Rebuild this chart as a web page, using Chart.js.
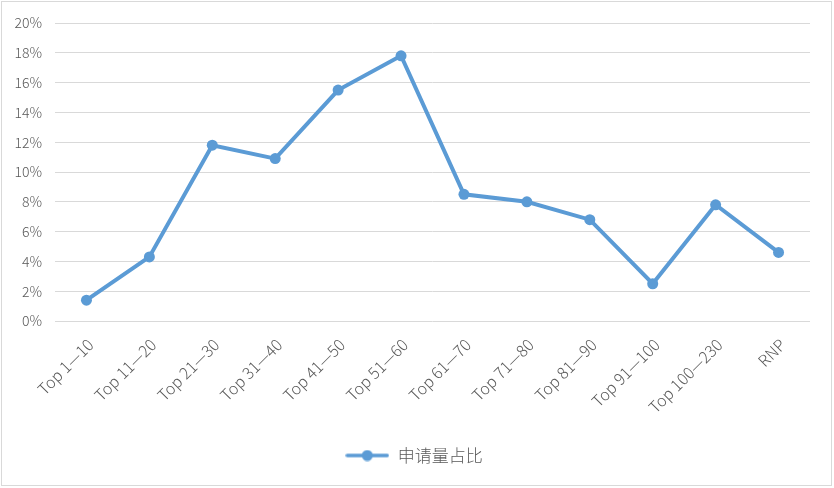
<!DOCTYPE html>
<html>
<head>
<meta charset="utf-8">
<script src="https://cdn.jsdelivr.net/npm/chart.js@4.4.0/dist/chart.umd.min.js"></script>
<style>
  html, body { margin: 0; padding: 0; background: #fff; }
  #wrap { position: absolute; left: 0; top: 0; width: 834px; height: 488px; }
  #frame { position: absolute; left: 1px; top: 1px; width: 829px; height: 483px; border: 1px solid #d9d9d9; pointer-events: none; }
</style>
</head>
<body>
<div id="wrap">
  <canvas id="c" width="834" height="488"></canvas>
  <div id="frame"></div>
</div>
<script>
const categories = ['Top 1—10', 'Top 11—20', 'Top 21—30', 'Top 31—40', 'Top 41—50', 'Top 51—60', 'Top 61—70', 'Top 71—80', 'Top 81—90', 'Top 91—100', 'Top 100—230', 'RNP'];
const seriesName = '申请量占比';
const shareValues = [1.4, 4.3, 11.8, 10.9, 15.5, 17.8, 8.5, 8.0, 6.8, 2.5, 7.8, 4.6];
const yTickMax = 20;
const yTickStep = 2;

const BLUE = '#5B9BD5';
const FONT = '"Noto Sans CJK SC", "Noto Sans", sans-serif';

function legendMarker() {
  const cv = document.createElement('canvas');
  cv.width = 44; cv.height = 12;
  const g = cv.getContext('2d');
  g.strokeStyle = BLUE; g.lineWidth = 3.5; g.lineCap = 'round';
  g.beginPath(); g.moveTo(2, 6); g.lineTo(42, 6); g.stroke();
  g.fillStyle = BLUE;
  g.beginPath(); g.arc(22, 6, 5.5, 0, Math.PI * 2); g.fill();
  return cv;
}
const marker = legendMarker();

const shiftLegend = {
  id: 'shiftLegend',
  afterLayout(chart) {
    if (chart.legend) { chart.legend.left += 9; chart.legend.right += 9; }
  }
};

new Chart(document.getElementById('c'), {
  type: 'line',
  plugins: [shiftLegend],
  data: {
    labels: categories,
    datasets: [{
      label: seriesName,
      data: shareValues,
      borderColor: BLUE,
      backgroundColor: BLUE,
      borderWidth: 4,
      pointRadius: 5.5,
      pointHoverRadius: 5.5,
      pointBackgroundColor: BLUE,
      pointBorderWidth: 0,
      tension: 0,
      pointStyle: 'circle'
    }]
  },
  options: {
    responsive: false,
    animation: false,
    devicePixelRatio: 1,
    layout: { padding: { left: 0, top: 23, right: 24, bottom: 14 } },
    plugins: {
      tooltip: { enabled: false },
      legend: {
        position: 'bottom',
        labels: {
          usePointStyle: true,
          pointStyle: marker,
          pointStyleWidth: 44,
          boxHeight: 12,
          color: '#595959',
          font: { family: FONT, size: 17, weight: '300' },
          padding: 10,
          generateLabels: (chart) => chart.data.datasets.map((ds, i) => ({
            text: ds.label, pointStyle: marker, fillStyle: BLUE, strokeStyle: BLUE,
            lineWidth: 0, hidden: false, datasetIndex: i, fontColor: '#595959'
          }))
        }
      }
    },
    scales: {
      x: {
        offset: true,
        grid: { display: false, drawTicks: false },
        border: { display: false },
        ticks: {
          color: '#595959',
          font: { family: FONT, size: 16, weight: '300' },
          minRotation: 45, maxRotation: 45,
          autoSkip: false,
          padding: 14,
          labelOffset: 4
        },
        afterFit: (s) => { s.height = 116; }
      },
      y: {
        min: 0, max: yTickMax,
        grid: { color: '#d9d9d9', lineWidth: 1, drawTicks: false },
        border: { display: false },
        ticks: {
          stepSize: yTickStep,
          color: '#595959',
          font: { family: FONT, size: 14, weight: '300' },
          padding: 13,
          callback: (v) => v + '%'
        },
        afterFit: (s) => { s.width = 55; }
      }
    }
  }
});
</script>
</body>
</html>
